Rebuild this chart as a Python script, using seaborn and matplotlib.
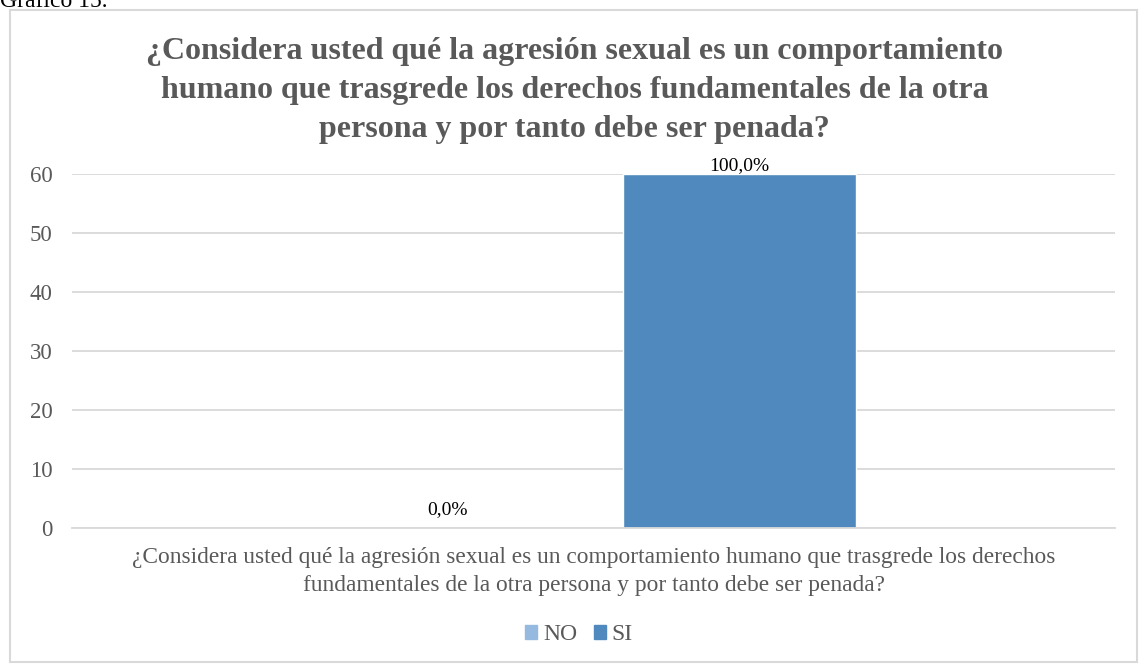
import matplotlib
matplotlib.use("Agg")
import matplotlib.pyplot as plt
import seaborn as sns
import pandas as pd
from matplotlib.patches import Rectangle

# datos del gráfico
question = ("¿Considera usted qué la agresión sexual es un comportamiento humano que trasgrede los derechos\n"
            "fundamentales de la otra persona y por tanto debe ser penada?")
answers = ["NO", "SI"]
counts = [0, 60]
pct_labels = ["0,0%", "100,0%"]
yticks = [0, 10, 20, 30, 40, 50, 60]
title = ("¿Considera usted qué la agresión sexual es un comportamiento\n"
         "humano que trasgrede los derechos fundamentales de la otra\n"
         "persona y por tanto debe ser penada?")

df = pd.DataFrame({"pregunta": [question] * len(answers), "respuesta": answers, "n": counts})

sns.set_style("white")
plt.rcParams["font.family"] = ["Liberation Serif", "DejaVu Serif"]
gray = "#595959"

fig = plt.figure(figsize=(11.4, 6.64), dpi=100)
ax = fig.add_axes([0.0632, 0.2048, 0.915, 0.5332])

sns.barplot(data=df, x="pregunta", y="n", hue="respuesta",
            palette=["#95B9DF", "#4F89BD"], width=0.56, gap=0.2,
            saturation=1, ax=ax, legend=False)

for cont, lab, pad in zip(ax.containers, pct_labels, [7, 0]):
    ax.bar_label(cont, labels=[lab], padding=pad, fontsize=14, color="black")

ax.set_ylim(0, 60)
ax.set_yticks(yticks)
ax.set_xlim(-0.5, 0.5)
ax.yaxis.grid(True, color="#D9D9D9", linewidth=1.3)
ax.set_axisbelow(True)
for s in ["top", "right", "left"]:
    ax.spines[s].set_visible(False)
ax.spines["bottom"].set_color("#D9D9D9")
ax.spines["bottom"].set_linewidth(1.3)
ax.tick_params(axis="both", length=0, labelsize=16.5, labelcolor=gray)
ax.tick_params(axis="y", pad=14)
ax.tick_params(axis="x", pad=14)
for t in ax.get_xticklabels():
    t.set_multialignment("center")
    t.set_fontsize(16.8)
    t.set_linespacing(1.42)
ax.set_xlabel("")
ax.set_ylabel("")

# leyenda
handles = [Rectangle((0, 0), 1, 1, color=c) for c in ["#95B9DF", "#4F89BD"]]
fig.legend(handles, answers, loc="center", bbox_to_anchor=(0.508, 0.044), ncol=2,
           frameon=False, fontsize=17, labelcolor=gray, handlelength=0.5,
           handleheight=0.5, handletextpad=0.25, columnspacing=0.7)

fig.text(0.504, 1 - 37 / 664, title, ha="center", va="top", fontsize=23,
         fontweight="bold", color=gray, linespacing=1.46)

# marco del gráfico
fig.patches.append(Rectangle((10 / 1140, 2 / 664), 1127 / 1140, 652 / 664,
                             transform=fig.transFigure, fill=False,
                             edgecolor="#D9D9D9", linewidth=1.5))
fig.text(0.0, 1 - 7 / 664, "Gráfico 15.", ha="left", va="baseline", fontsize=17, color="black")

fig.savefig("out.png", dpi=100)
